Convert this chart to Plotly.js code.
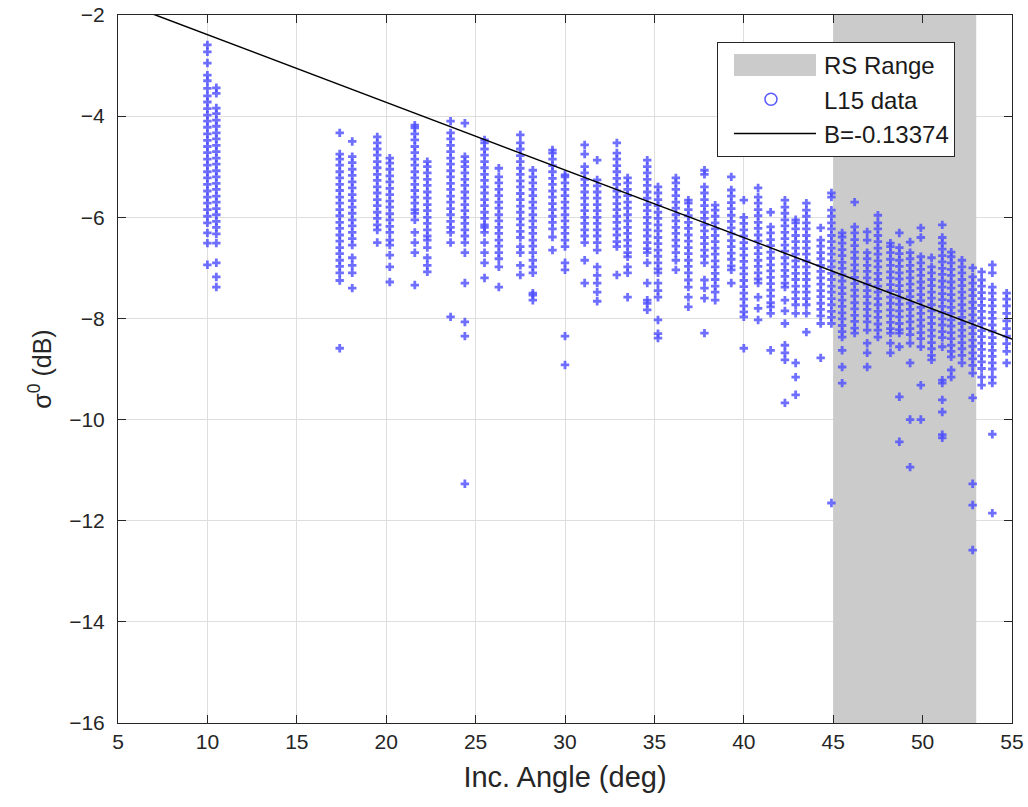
<!DOCTYPE html>
<html>
<head>
<meta charset="utf-8">
<script src="https://cdn.plot.ly/plotly-3.0.1.min.js"></script>
<style>html,body{margin:0;padding:0;background:#fff;}#chart{width:1028px;height:807px;}</style>
</head>
<body>
<div id="chart"></div>
<script>
// Incidence angle of each data column (deg)
const colAngles = [10.0, 10.5, 17.4, 18.1, 19.5, 20.2, 21.6, 22.3, 23.6, 24.4, 25.5, 26.3, 27.5, 28.2, 29.3, 30.0,
  31.1, 31.8, 32.9, 33.5, 34.6, 35.2, 36.2, 36.9, 37.8, 38.4, 39.3, 40.0, 40.8, 41.5, 42.3, 42.9, 43.5, 44.3, 44.9,
  45.5, 46.2, 46.9, 47.5, 48.2, 48.7, 49.3, 49.9, 50.5, 51.1, 51.6, 52.2, 52.8, 53.3, 53.9, 54.7];

// sigma0 values (dB) read for each column
const colValues = [
  [-2.59,-2.73,-2.95,-3.19,-3.3,-3.45,-3.6,-3.72,-3.85,-3.98,-4.1,-4.22,-4.35,-4.48,-4.6,-4.72,-4.85,-4.97,-5.1,-5.22,-5.35,-5.48,-5.6,-5.72,-5.85,-5.98,-6.11,-6.31,-6.51,-6.94],
  [-3.44,-3.55,-3.84,-3.95,-4.08,-4.2,-4.33,-4.45,-4.58,-4.7,-4.83,-4.95,-5.08,-5.2,-5.33,-5.45,-5.58,-5.7,-5.83,-5.95,-6.08,-6.2,-6.33,-6.51,-6.9,-7.18,-7.38],
  [-4.33,-4.75,-4.85,-4.97,-5.1,-5.22,-5.35,-5.47,-5.6,-5.72,-5.85,-5.97,-6.1,-6.22,-6.35,-6.47,-6.6,-6.72,-6.85,-6.97,-7.1,-7.25,-8.59],
  [-4.5,-4.8,-4.92,-5.05,-5.17,-5.3,-5.42,-5.55,-5.67,-5.8,-5.92,-6.05,-6.17,-6.3,-6.42,-6.55,-6.8,-6.95,-7.1,-7.4],
  [-4.41,-4.53,-4.65,-4.77,-4.9,-5.02,-5.15,-5.27,-5.4,-5.52,-5.65,-5.77,-5.9,-6.02,-6.15,-6.25,-6.5],
  [-4.83,-4.93,-5.05,-5.18,-5.3,-5.43,-5.55,-5.68,-5.8,-5.93,-6.05,-6.18,-6.3,-6.45,-6.55,-6.75,-6.98,-7.28],
  [-4.18,-4.23,-4.35,-4.47,-4.6,-4.72,-4.85,-4.97,-5.1,-5.22,-5.35,-5.47,-5.6,-5.72,-5.85,-5.92,-6.05,-6.3,-6.5,-6.7,-7.34],
  [-4.9,-5.0,-5.12,-5.25,-5.37,-5.5,-5.62,-5.75,-5.87,-6.0,-6.12,-6.25,-6.37,-6.45,-6.6,-6.8,-6.95,-7.08],
  [-4.1,-4.33,-4.45,-4.58,-4.7,-4.83,-4.95,-5.08,-5.2,-5.33,-5.45,-5.58,-5.7,-5.83,-5.95,-6.08,-6.2,-6.3,-6.5,-7.97],
  [-4.14,-4.8,-4.9,-5.0,-5.12,-5.25,-5.37,-5.5,-5.62,-5.75,-5.87,-6.0,-6.12,-6.25,-6.37,-6.5,-6.7,-7.3,-8.07,-8.35,-11.27],
  [-4.47,-4.53,-4.65,-4.77,-4.9,-5.02,-5.15,-5.27,-5.4,-5.52,-5.65,-5.77,-5.9,-6.02,-6.15,-6.2,-6.3,-6.5,-6.7,-6.9,-7.2],
  [-5.03,-5.2,-5.32,-5.45,-5.57,-5.7,-5.82,-5.95,-6.07,-6.2,-6.32,-6.45,-6.57,-6.7,-6.82,-6.98,-7.38],
  [-4.37,-4.53,-4.65,-4.78,-4.9,-5.03,-5.15,-5.28,-5.4,-5.53,-5.65,-5.78,-5.9,-6.03,-6.15,-6.28,-6.4,-6.58,-6.7,-6.95,-7.14],
  [-5.07,-5.2,-5.32,-5.45,-5.57,-5.7,-5.82,-5.95,-6.07,-6.2,-6.32,-6.45,-6.57,-6.7,-6.85,-6.98,-7.1,-7.5,-7.54,-7.64],
  [-4.67,-4.73,-4.85,-4.98,-5.1,-5.23,-5.35,-5.48,-5.6,-5.73,-5.85,-5.98,-6.1,-6.23,-6.39,-6.65],
  [-5.16,-5.2,-5.32,-5.45,-5.57,-5.7,-5.82,-5.95,-6.07,-6.2,-6.32,-6.45,-6.58,-6.9,-7.04,-8.35,-8.92],
  [-4.57,-4.75,-5.0,-5.12,-5.25,-5.37,-5.5,-5.62,-5.75,-5.87,-6.0,-6.12,-6.25,-6.37,-6.5,-6.85,-7.3],
  [-4.87,-5.26,-5.38,-5.5,-5.62,-5.75,-5.87,-6.0,-6.12,-6.25,-6.37,-6.5,-6.65,-6.98,-7.15,-7.3,-7.48,-7.66],
  [-4.53,-4.73,-4.85,-4.98,-5.1,-5.23,-5.35,-5.48,-5.6,-5.73,-5.85,-5.98,-6.1,-6.23,-6.35,-6.48,-6.58,-7.14],
  [-5.22,-5.32,-5.45,-5.57,-5.7,-5.82,-5.95,-6.07,-6.2,-6.32,-6.45,-6.57,-6.7,-6.78,-6.98,-7.1,-7.58],
  [-4.87,-5.0,-5.12,-5.25,-5.37,-5.5,-5.62,-5.75,-5.87,-6.0,-6.12,-6.25,-6.37,-6.5,-6.62,-6.7,-6.9,-7.3,-7.64,-7.7,-7.83],
  [-5.4,-5.52,-5.65,-5.77,-5.9,-6.02,-6.15,-6.27,-6.4,-6.52,-6.65,-6.77,-6.9,-7.02,-7.1,-7.3,-7.45,-7.58,-8.03,-8.3,-8.39],
  [-5.22,-5.32,-5.45,-5.57,-5.7,-5.82,-5.95,-6.07,-6.2,-6.32,-6.45,-6.57,-6.7,-6.85,-7.04],
  [-5.66,-5.72,-5.85,-5.97,-6.1,-6.22,-6.35,-6.47,-6.6,-6.72,-6.85,-6.97,-7.1,-7.24,-7.38,-7.58,-7.77],
  [-5.07,-5.15,-5.4,-5.52,-5.65,-5.77,-5.9,-6.02,-6.15,-6.27,-6.4,-6.52,-6.65,-6.77,-6.9,-7.24,-7.4,-7.6,-8.29],
  [-5.76,-5.86,-5.98,-6.11,-6.23,-6.36,-6.48,-6.61,-6.73,-6.86,-6.98,-7.11,-7.23,-7.36,-7.48,-7.64],
  [-5.2,-5.46,-5.58,-5.71,-5.83,-5.96,-6.08,-6.21,-6.33,-6.46,-6.58,-6.71,-6.83,-6.96,-7.04,-7.3],
  [-5.66,-6.0,-6.12,-6.25,-6.37,-6.5,-6.62,-6.75,-6.87,-7.0,-7.12,-7.25,-7.37,-7.5,-7.62,-7.75,-7.87,-7.97,-8.59],
  [-5.42,-5.6,-5.72,-5.85,-5.97,-6.1,-6.22,-6.35,-6.47,-6.6,-6.72,-6.85,-6.97,-7.1,-7.22,-7.3,-7.58,-7.8,-8.03],
  [-5.9,-6.19,-6.31,-6.44,-6.56,-6.69,-6.81,-6.94,-7.06,-7.19,-7.31,-7.44,-7.56,-7.69,-7.77,-7.9,-8.63],
  [-5.66,-5.8,-5.92,-6.05,-6.17,-6.3,-6.42,-6.55,-6.67,-6.8,-6.92,-7.05,-7.17,-7.3,-7.38,-7.64,-7.85,-8.1,-8.53,-8.68,-8.82,-9.67],
  [-6.05,-6.11,-6.23,-6.36,-6.48,-6.61,-6.73,-6.86,-6.98,-7.11,-7.23,-7.36,-7.48,-7.61,-7.73,-7.9,-8.88,-9.16,-9.51],
  [-5.72,-5.86,-5.98,-6.11,-6.23,-6.36,-6.48,-6.61,-6.73,-6.86,-6.98,-7.11,-7.23,-7.36,-7.48,-7.61,-7.73,-7.9,-8.27],
  [-6.21,-6.45,-6.57,-6.7,-6.82,-6.95,-7.07,-7.2,-7.32,-7.45,-7.57,-7.7,-7.82,-7.95,-8.1,-8.78],
  [-5.52,-5.6,-5.86,-5.98,-6.11,-6.23,-6.36,-6.48,-6.61,-6.73,-6.86,-6.98,-7.11,-7.23,-7.36,-7.48,-7.61,-7.73,-7.86,-7.98,-8.1,-11.65],
  [-6.31,-6.39,-6.51,-6.64,-6.76,-6.89,-7.01,-7.14,-7.26,-7.39,-7.51,-7.64,-7.76,-7.89,-8.01,-8.14,-8.26,-8.37,-8.63,-8.96,-9.28],
  [-5.7,-6.19,-6.31,-6.44,-6.56,-6.69,-6.81,-6.94,-7.06,-7.19,-7.31,-7.44,-7.56,-7.69,-7.81,-7.94,-8.06,-8.19,-8.29],
  [-6.29,-6.45,-6.7,-6.82,-6.95,-7.07,-7.2,-7.32,-7.45,-7.57,-7.7,-7.82,-7.95,-8.07,-8.23,-8.49,-8.68,-8.96],
  [-5.96,-6.11,-6.23,-6.36,-6.48,-6.61,-6.73,-6.86,-6.98,-7.11,-7.23,-7.36,-7.48,-7.61,-7.73,-7.86,-7.98,-8.11,-8.23,-8.37],
  [-6.51,-6.58,-6.7,-6.83,-6.95,-7.08,-7.2,-7.33,-7.45,-7.58,-7.7,-7.83,-7.95,-8.08,-8.2,-8.29,-8.49,-8.68],
  [-6.31,-6.6,-6.72,-6.85,-6.97,-7.1,-7.22,-7.35,-7.47,-7.6,-7.72,-7.85,-7.97,-8.1,-8.22,-8.29,-8.56,-9.55,-10.44],
  [-6.49,-6.7,-6.82,-6.95,-7.07,-7.2,-7.32,-7.45,-7.57,-7.7,-7.82,-7.95,-8.07,-8.2,-8.32,-8.49,-8.88,-10.0,-10.94],
  [-6.21,-6.4,-6.78,-6.9,-7.03,-7.15,-7.28,-7.4,-7.53,-7.65,-7.78,-7.9,-8.03,-8.15,-8.28,-8.4,-8.56,-9.32,-10.0],
  [-6.8,-6.98,-7.1,-7.23,-7.35,-7.48,-7.6,-7.73,-7.85,-7.98,-8.1,-8.23,-8.35,-8.48,-8.6,-8.73,-8.82],
  [-6.15,-6.4,-6.51,-6.63,-6.76,-6.88,-7.01,-7.13,-7.26,-7.38,-7.51,-7.63,-7.76,-7.88,-8.01,-8.13,-8.26,-8.38,-8.56,-9.22,-9.28,-9.61,-9.85,-10.3,-10.36],
  [-6.69,-6.78,-6.9,-7.03,-7.15,-7.28,-7.4,-7.53,-7.65,-7.78,-7.9,-8.03,-8.15,-8.28,-8.4,-8.53,-8.65,-8.76,-9.02,-9.16],
  [-6.85,-6.98,-7.1,-7.23,-7.35,-7.48,-7.6,-7.73,-7.85,-7.98,-8.1,-8.23,-8.35,-8.48,-8.6,-8.73,-8.88],
  [-7.0,-7.18,-7.3,-7.43,-7.55,-7.68,-7.8,-7.93,-8.05,-8.18,-8.3,-8.43,-8.55,-8.68,-8.8,-8.93,-9.08,-9.57,-11.27,-11.69,-12.58],
  [-7.08,-7.24,-7.36,-7.49,-7.61,-7.74,-7.86,-7.99,-8.11,-8.24,-8.36,-8.49,-8.61,-8.74,-8.86,-8.99,-9.16,-9.32],
  [-6.94,-7.1,-7.38,-7.5,-7.63,-7.75,-7.88,-8.0,-8.13,-8.25,-8.38,-8.5,-8.63,-8.75,-8.88,-9.0,-9.16,-9.28,-10.29,-11.85],
  [-7.5,-7.62,-7.75,-7.9,-8.05,-8.2,-8.35,-8.5,-8.65,-8.88]
];

// Fit line end points (B = -0.13374)
const fitX = [5, 55];
const fitY = [-1.72, -8.41];
const fitLabel = 'B=-0.13374';

// RS range band
const bandX = [45, 53, 53, 45, 45];
const bandY = [-16, -16, -2, -2, -16];

const xTicks = [5, 10, 15, 20, 25, 30, 35, 40, 45, 50, 55];
const yTicks = [-16, -14, -12, -10, -8, -6, -4, -2];

const ptsX = [], ptsY = [];
colAngles.forEach((a, i) => {
  colValues[i].forEach(v => { ptsX.push(a); ptsY.push(v); });
});

const FONT = 'Liberation Sans, Arial, Helvetica, sans-serif';
const TXT = '#262626';

const traces = [
  {
    x: bandX, y: bandY, type: 'scatter', mode: 'lines', fill: 'toself',
    fillcolor: '#cbcbcb', line: {width: 0, color: '#cbcbcb'}, name: 'RS Range', hoverinfo: 'skip'
  },
  {
    x: ptsX, y: ptsY, type: 'scatter', mode: 'markers', showlegend: false,
    marker: {symbol: 'cross', size: 7, color: 'rgba(75,75,255,0.8)', line: {width: 0}}
  },
  {
    x: [null], y: [null], type: 'scatter', mode: 'markers', name: 'L15 data',
    marker: {symbol: 'circle-open', size: 12, color: '#5a5aff', line: {width: 1.5}}
  },
  {
    x: fitX, y: fitY, type: 'scatter', mode: 'lines', name: fitLabel,
    line: {color: '#000000', width: 1.5}
  }
];

const layout = {
  width: 1028, height: 807,
  margin: {l: 118, r: 16, t: 15, b: 84},
  paper_bgcolor: '#ffffff', plot_bgcolor: '#ffffff',
  font: {family: FONT, color: TXT, size: 20},
  showlegend: true,
  legend: {
    x: 0.670, y: 0.962, xanchor: 'left', yanchor: 'top',
    bgcolor: '#ffffff', bordercolor: '#262626', borderwidth: 1,
    font: {family: FONT, size: 24, color: '#1a1a1a'},
    itemwidth: 96, tracegroupgap: 0
  },
  xaxis: {
    range: [5, 55], tickvals: xTicks, ticktext: xTicks.map(String),
    showgrid: true, gridcolor: '#dedede', gridwidth: 1,
    zeroline: false, showline: true, linecolor: TXT, linewidth: 1, mirror: 'ticks',
    ticks: 'inside', ticklen: 8, tickcolor: TXT, tickwidth: 1,
    tickfont: {family: FONT, size: 21, color: TXT},
    title: {text: 'Inc. Angle (deg)', font: {family: FONT, size: 29, color: TXT}, standoff: 14}
  },
  yaxis: {
    range: [-16, -2], tickvals: yTicks, ticktext: yTicks.map(v => '\u2212' + Math.abs(v)),
    showgrid: true, gridcolor: '#dedede', gridwidth: 1,
    zeroline: false, showline: true, linecolor: TXT, linewidth: 1, mirror: 'ticks',
    ticks: 'inside', ticklen: 8, tickcolor: TXT, tickwidth: 1, ticklabelstandoff: 8,
    tickfont: {family: FONT, size: 21, color: TXT},
    title: {text: '\u03C3<sup>0</sup> (dB)', font: {family: FONT, size: 25, color: TXT}, standoff: 10}
  }
};

Plotly.newPlot('chart', traces, layout, {displayModeBar: false, staticPlot: true}).then(gd => {
  // enlarge legend symbols to MATLAB-like proportions
  const items = gd.querySelectorAll('.legend .traces');
  items.forEach(it => {
    const fillP = it.querySelector('.legendfill path');
    if (fillP) fillP.setAttribute('d', 'M16,-11h82v22h-82z');
    const lineP = it.querySelector('.legendlines path');
    if (lineP) lineP.setAttribute('d', 'M16,0h82');
  });
});
</script>
</body>
</html>
